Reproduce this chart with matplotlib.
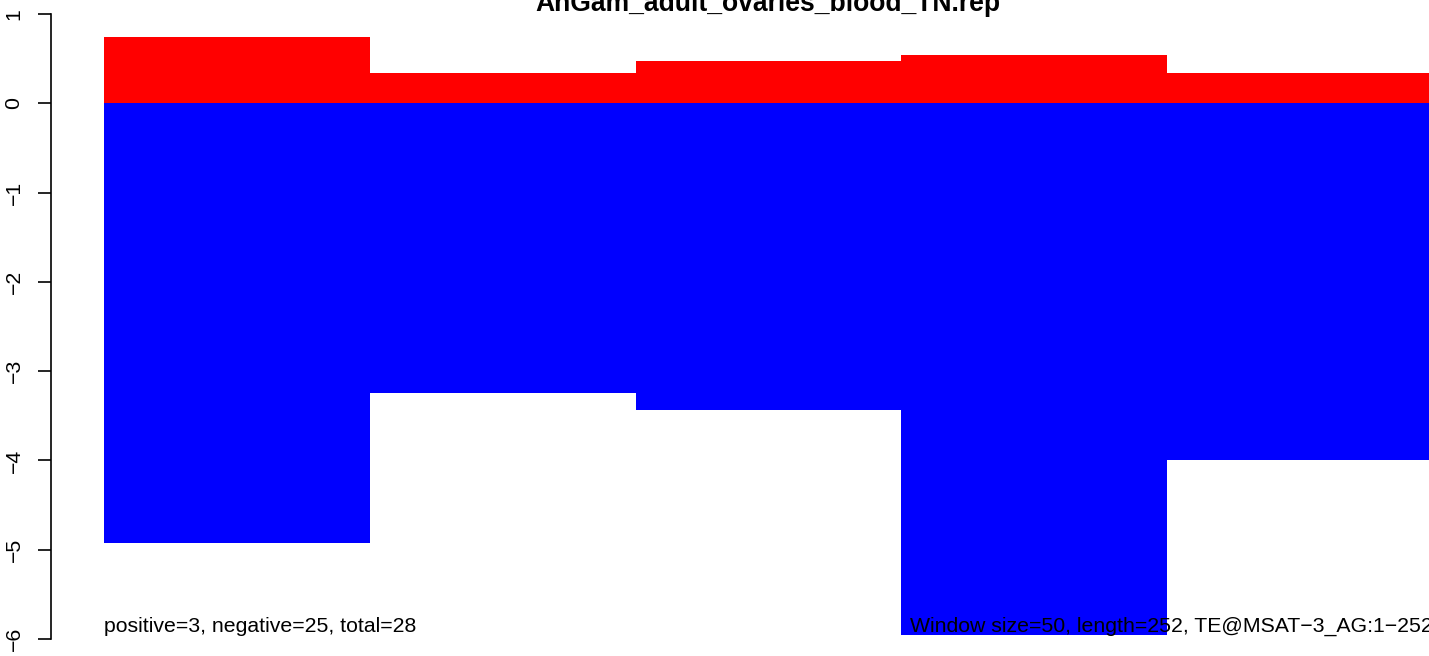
import matplotlib
matplotlib.use("Agg")
import matplotlib.pyplot as plt

plt.rcParams['font.family'] = ['Liberation Sans', 'DejaVu Sans']
plt.rcParams['axes.unicode_minus'] = True

# window data (TE@MSAT-3_AG, window size 50)
win_start = [0, 50, 100, 150, 200]
win_size = 50
seq_len = 252
pos_vals = [0.742, 0.339, 0.474, 0.541, 0.339]
neg_vals = [-4.93, -3.25, -3.44, -5.95, -3.99]
y_ticks = [1, 0, -1, -2, -3, -4, -5, -6]

title = "AnGam_adult_ovaries_blood_TN.rep"
left_note = "positive=3, negative=25, total=28"
right_note = "Window size=50, length=252, TE@MSAT\u22123_AG:1\u2212252"

W, H = 1429, 656
fig = plt.figure(figsize=(W / 100, H / 100), dpi=100)

# axes placed like the R plot region (cropped on the right)
ax_l = 50.5 / W
ax_r = 1497 / W
ax = fig.add_axes([ax_l, 0, ax_r - ax_l, 1])

ax.bar(win_start, pos_vals, width=win_size, align='edge', color='#FF0000', linewidth=0)
ax.bar(win_start, neg_vals, width=win_size, align='edge', color='#0000FF', linewidth=0)

ax.set_xlim(-0.04 * seq_len, seq_len * 1.04)
ax.set_ylim(-6.19, 1.157)

for s in ['top', 'right', 'bottom']:
    ax.spines[s].set_visible(False)
ax.spines['left'].set_bounds(-6, 1)
ax.spines['left'].set_linewidth(1.2)
ax.set_xticks([])
ax.set_yticks(y_ticks)
ax.set_yticklabels([str(t).replace('-', '\u2212') for t in y_ticks], rotation=90, va='center')
ax.tick_params(axis='y', length=9.4, width=1.2, pad=10, labelsize=15.3)

ax.text(0, -5.86, left_note, fontsize=15.3, ha='left', va='center')
ax.text(151.6, -5.86, right_note, fontsize=15.3, ha='left', va='center')

fig.text(767.5 / W, 1 - 11 / H, title, fontsize=19.1, fontweight='bold',
         ha='center', va='baseline')

fig.savefig("out.png", dpi=100)
